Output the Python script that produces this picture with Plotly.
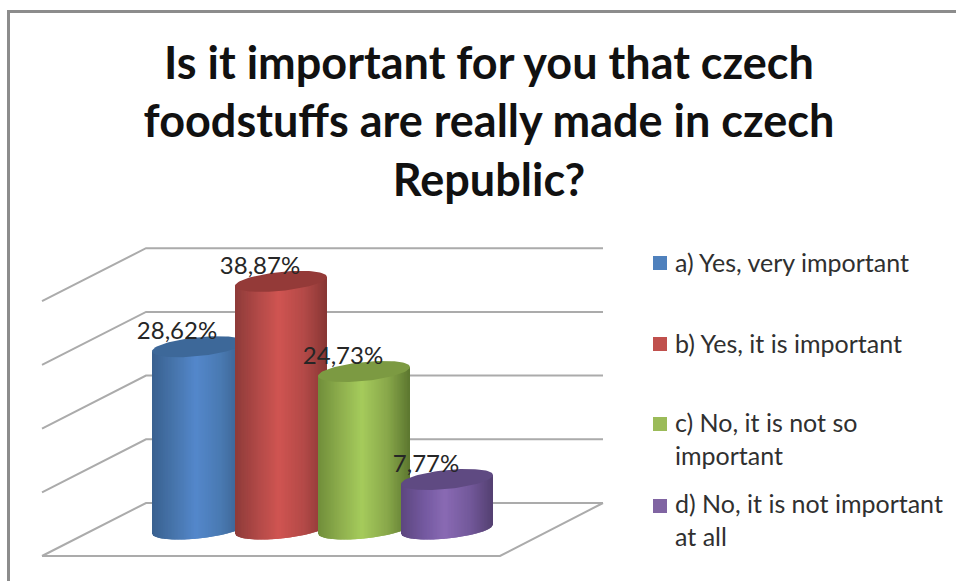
import numpy as np
import plotly.graph_objects as go

# Survey results
categories = ["a) Yes, very important", "b) Yes, it is important",
              "c) No, it is not so<br>important", "d) No, it is not important<br>at all"]
shares = [28.62, 38.87, 24.73, 7.77]
grid_levels = [0, 10, 20, 30, 40]
title_text = ("Is it important for you that czech<br>"
              "foodstuffs are really made in czech<br>Republic?")

# Cylinder shading: left edge, shoulder, centre, shoulder, right edge, cap, legend swatch
palettes = [
    ["#3a6190", "#4876ad", "#5488cc", "#4a7ab2", "#3a5f8c", "#3d6899", "#4f81bd"],
    ["#8e3b39", "#b24a48", "#d05552", "#b44a48", "#873735", "#943a38", "#c0504d"],
    ["#718e3b", "#8fb04e", "#a6cc5c", "#8aa94b", "#5c7730", "#7c9a42", "#9bbb59"],
    ["#5d477f", "#7459a0", "#8a6bb4", "#73599b", "#544071", "#5f4a82", "#8064a2"],
]

WIDTH, HEIGHT = 956, 581
CAT_PX, FIRST_PX = 83.0, 198.0   # pixels per category, centre of the first cylinder
PCT_PX, BASE_PX = 6.37, 529.0    # pixels per percent, row of the 0 % level


def hex_rgb(h):
    return np.array([int(h[i:i + 2], 16) for i in (1, 3, 5)], dtype=float)


def X(px):
    return (np.asarray(px, dtype=float) - FIRST_PX) / CAT_PX


def Y(px):
    return (BASE_PX - np.asarray(px, dtype=float)) / PCT_PX


fig = go.Figure()

# Back wall, side wall and floor outline
BACK_OFFSET = Y(503)
FRONT_OFFSET = Y(556)
LEFT, BACK_LEFT, RIGHT, FRONT_RIGHT = X(42), X(146), X(603), X(500)
gx, gy = [], []
for lv in grid_levels:
    gx += [LEFT, BACK_LEFT, RIGHT, None]
    gy += [lv + FRONT_OFFSET, lv + BACK_OFFSET, lv + BACK_OFFSET, None]
gx += [LEFT, FRONT_RIGHT, RIGHT]
gy += [FRONT_OFFSET, FRONT_OFFSET, BACK_OFFSET]
fig.add_trace(go.Scatter(x=gx, y=gy, mode="lines", line=dict(color="#ababab", width=2)))

# Cylinders, painted left to right so that each one overlaps its neighbour
HALF_W = 46.0 / CAT_PX
ELL_B = 9.5 / PCT_PX
ELL_TILT = 4.5 / PCT_PX
STRIPS = 64
edges = np.linspace(-1, 1, STRIPS + 1)
stops = [-1, -0.5, -0.05, 0.5, 1]

for i, (val, pal) in enumerate(zip(shares, palettes)):
    rgb = np.array([hex_rgb(c) for c in pal[:5]])
    for k in range(STRIPS):
        u = np.linspace(edges[k], edges[min(k + 2, STRIPS)], 4)
        mid = (edges[k] + edges[k + 1]) / 2
        col = [np.interp(mid, stops, rgb[:, c]) for c in range(3)]
        col = "rgb(%d,%d,%d)" % tuple(col)
        bottom = -ELL_B * np.sqrt(np.clip(1 - u ** 2, 0, 1)) + ELL_TILT * u
        top = val + ELL_TILT * u
        fig.add_trace(go.Scatter(
            x=np.r_[i + HALF_W * u, i + HALF_W * u[::-1]],
            y=np.r_[top, bottom[::-1]],
            mode="lines", fill="toself", fillcolor=col, line=dict(width=0)))
    t = np.linspace(0, 2 * np.pi, 90)
    fig.add_trace(go.Scatter(
        x=i + HALF_W * np.cos(t),
        y=val + ELL_B * np.sin(t) + ELL_TILT * np.cos(t),
        mode="lines", fill="toself", fillcolor=pal[5], line=dict(width=0)))

# Value labels
fig.add_trace(go.Scatter(
    x=[i - 21 / CAT_PX for i in range(len(shares))],
    y=[v + 13.5 / PCT_PX for v in shares],
    mode="text",
    text=[f"{v:.2f}".replace(".", ",") + "%" for v in shares],
    textposition="middle center",
    textfont=dict(family="Lato", size=24, color="#262626")))

# Legend column
legend_rows = [262, 343, 438.5, 519.5]
fig.add_trace(go.Scatter(
    x=[X(660)] * 4,
    y=[Y(263), Y(344), Y(424), Y(506)],
    mode="markers",
    marker=dict(symbol="square", size=14, color=[p[6] for p in palettes])))
for name, row in zip(categories, legend_rows):
    fig.add_annotation(
        x=float(X(673)), y=float(Y(row)), text=name, showarrow=False,
        xanchor="left", yanchor="middle", align="left",
        font=dict(family="Lato", size=25, color="#303030"))

fig.update_layout(
    width=WIDTH, height=HEIGHT,
    margin=dict(l=0, r=0, t=0, b=0),
    paper_bgcolor="white", plot_bgcolor="white",
    showlegend=False, hovermode=False,
    title=dict(text=title_text, x=489 / WIDTH, xanchor="center",
               y=1 - 78.5 / HEIGHT, yanchor="middle",
               font=dict(family="Lato", size=45, color="#111111", weight="bold")),
    xaxis=dict(visible=False, range=[float(X(0)), float(X(WIDTH))], fixedrange=True),
    yaxis=dict(visible=False, range=[float(Y(HEIGHT)), float(Y(0))], fixedrange=True),
    shapes=[dict(type="path", xref="paper", yref="paper",
                 path=f"M {8.5 / WIDTH} 0 L {8.5 / WIDTH} {1 - 11.5 / HEIGHT} L 1 {1 - 11.5 / HEIGHT}",
                 line=dict(color="#8c8c8c", width=3))],
)

fig.write_html("out.html", config=dict(displayModeBar=False))
